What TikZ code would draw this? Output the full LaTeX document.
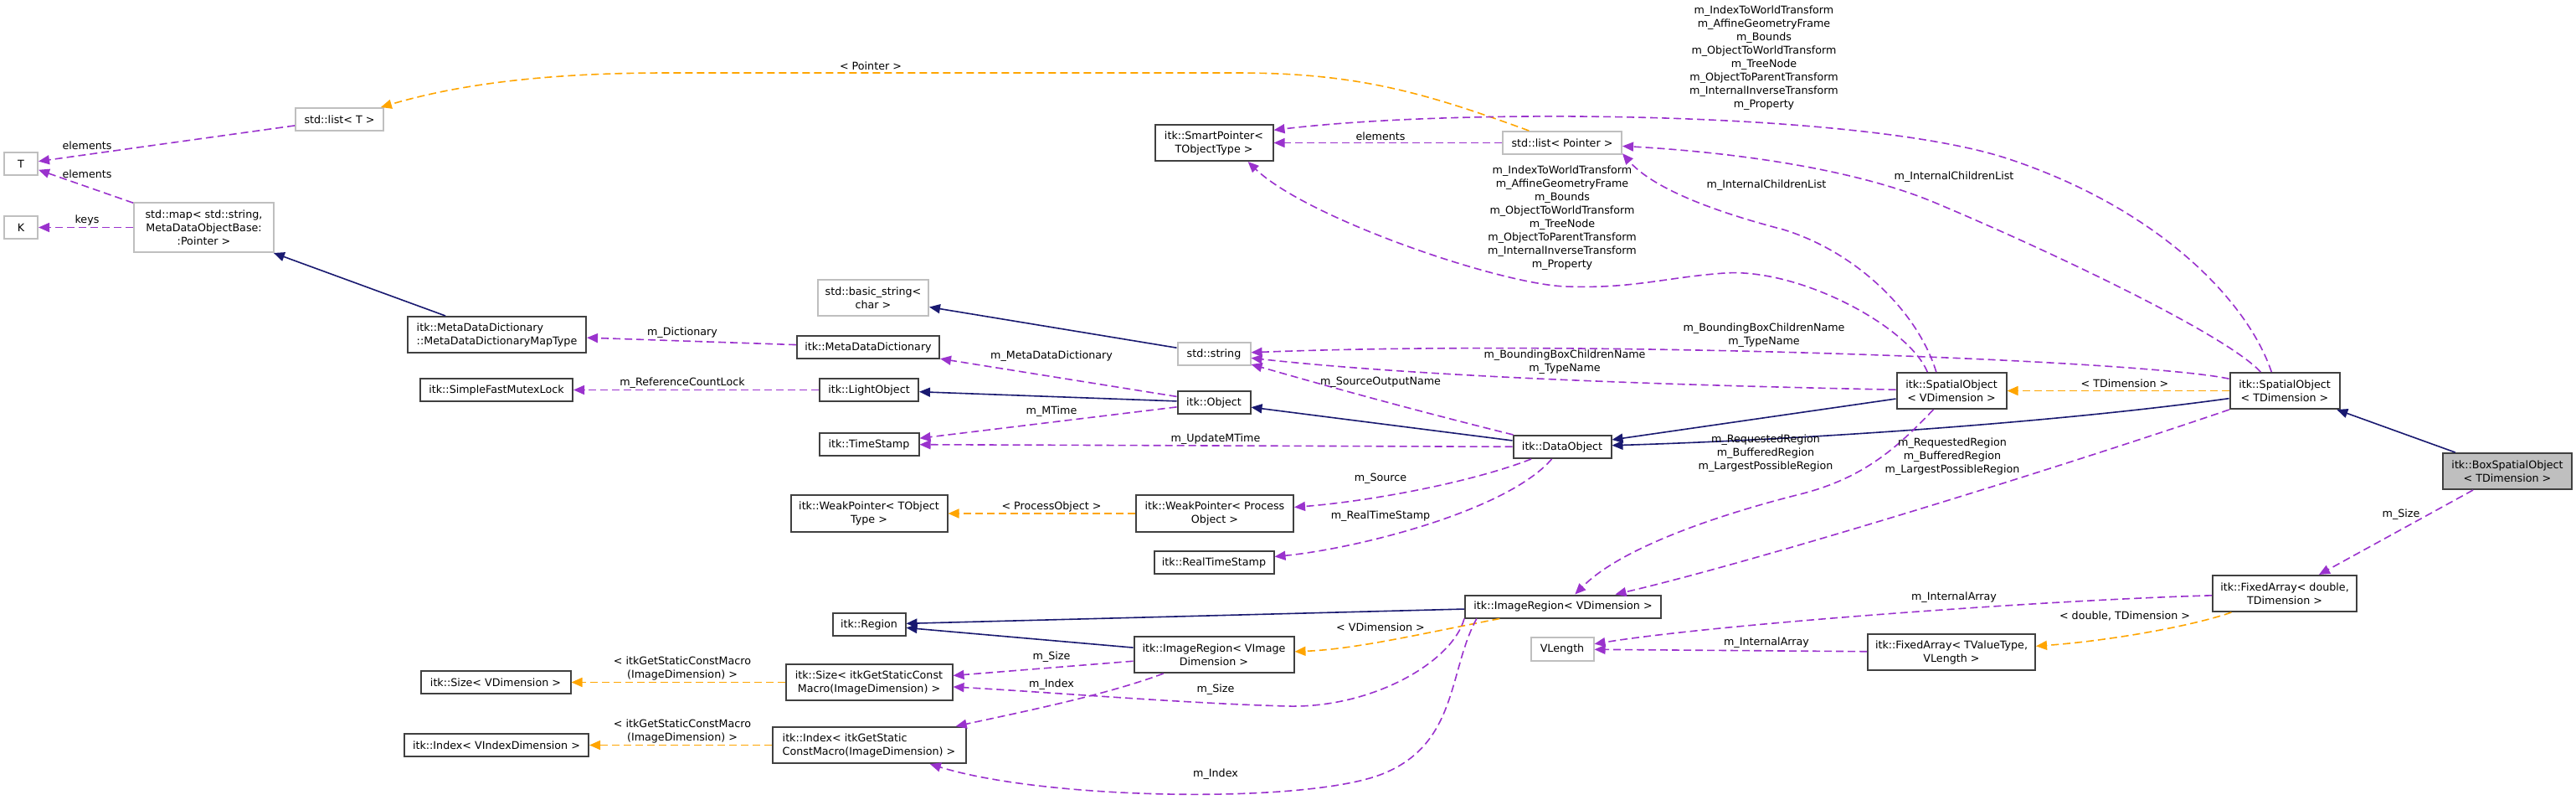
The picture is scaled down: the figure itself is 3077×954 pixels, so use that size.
\documentclass[tikz,border=0pt]{standalone}
\usepackage{fontspec}
\setmainfont{DejaVu Sans}
\usepackage{tikz}
\usetikzlibrary{arrows.meta}
\definecolor{navyline}{RGB}{25,25,112}
\definecolor{orchidline}{RGB}{154,50,205}
\definecolor{tplline}{RGB}{255,165,0}
\definecolor{boxgray}{RGB}{191,191,191}
\newcommand{\dfont}{\fontsize{12.7}{16}\selectfont}

\begin{document}
\begin{tikzpicture}[
            x=1pt, y=-1pt,
            cls/.style={draw=black!75, line width=2pt, fill=white, rectangle,
                       font=\dfont, align=center, inner xsep=4pt, inner ysep=0pt,
                       minimum height=27pt},
            ext/.style={cls, draw=boxgray},
            lbl/.style={font=\dfont, align=center, inner sep=0pt},
            inh/.style={-{Triangle[length=13pt,width=11pt]}, line width=1.6pt, color=navyline},
            use/.style={-{Triangle[length=13pt,width=11pt]}, line width=1.6pt, color=orchidline,
                       dash pattern=on 9pt off 5pt},
            tpl/.style={use, color=tplline}
        ]
            \useasboundingbox (0,0) rectangle (3077,954);

            % classes outside itk
            \node[ext, minimum width=40pt] (tparam) at (25,195.5) {T};
            \node[ext, minimum width=40pt] (kparam) at (25,271.5) {K};
            \node[ext, minimum width=105pt] (listt) at (405.5,142.5) {std::list< T >};
            \node[ext, minimum width=167pt, minimum height=59pt] (stdmap) at (243.5,271.5) {std::map< std::string,\\MetaDataObjectBase:\\:Pointer >};
            \node[ext, minimum width=132pt, minimum height=43pt] (basicstr) at (1043,355.5) {std::basic\_string<\\char >};
            \node[ext, minimum width=87pt] (stdstr) at (1450,422.5) {std::string};
            \node[ext, minimum width=142pt] (listptr) at (1866,170.5) {std::list< Pointer >};
            \node[ext, minimum width=75pt, minimum height=28pt] (vlength) at (1866,775) {VLength};

            % itk classes
            \node[cls, minimum width=213pt, minimum height=43pt, align=left] (maptype) at (593.5,399.5) {itk::MetaDataDictionary\\::MetaDataDictionaryMapType};
            \node[cls, minimum width=182pt] (mutex) at (593,465.5) {itk::SimpleFastMutexLock};
            \node[cls, minimum width=170pt] (mddict) at (1037,414.5) {itk::MetaDataDictionary};
            \node[cls, minimum width=118pt] (lightobj) at (1038,465.5) {itk::LightObject};
            \node[cls, minimum width=119pt] (timestamp) at (1038,530.5) {itk::TimeStamp};
            \node[cls, minimum width=187pt, minimum height=44pt] (weakt) at (1038,613) {itk::WeakPointer< TObject\\Type >};
            \node[cls, minimum width=141pt, minimum height=43pt] (smartptr) at (1450,170.5) {itk::SmartPointer<\\TObjectType >};
            \node[cls, minimum width=87pt] (object) at (1450,480.5) {itk::Object};
            \node[cls, minimum width=188pt, minimum height=44pt] (weakpo) at (1451,613) {itk::WeakPointer< Process\\Object >};
            \node[cls, minimum width=143pt] (realts) at (1450,671.5) {itk::RealTimeStamp};
            \node[cls, minimum width=117pt] (dataobj) at (1866,533.5) {itk::DataObject};
            \node[cls, minimum width=234pt] (imgregv) at (1867,724) {itk::ImageRegion< VDimension >};
            \node[cls, minimum width=87pt] (region) at (1038,745.5) {itk::Region};
            \node[cls, minimum width=191pt, minimum height=43pt] (imgregvi) at (1450,781.5) {itk::ImageRegion< VImage\\Dimension >};
            \node[cls, minimum width=179pt] (sizev) at (592,814.5) {itk::Size< VDimension >};
            \node[cls, minimum width=199pt, minimum height=43pt] (sizeg) at (1038,814.5) {itk::Size< itkGetStaticConst\\Macro(ImageDimension) >};
            \node[cls, minimum width=220pt] (indexv) at (593,889.5) {itk::Index< VIndexDimension >};
            \node[cls, minimum width=231pt, minimum height=43pt, align=left] (indexg) at (1038,889.5) {itk::Index< itkGetStatic\\ConstMacro(ImageDimension) >};
            \node[cls, minimum width=131pt, minimum height=43pt] (spatialv) at (2331,466.5) {itk::SpatialObject\\< VDimension >};
            \node[cls, minimum width=131pt, minimum height=43pt] (spatialt) at (2729,466.5) {itk::SpatialObject\\< TDimension >};
            \node[cls, fill=boxgray, minimum width=154pt, minimum height=43pt] (boxspatial) at (2995,562.5) {itk::BoxSpatialObject\\< TDimension >};
            \node[cls, minimum width=172pt, minimum height=43pt] (fixedd) at (2729,708.5) {itk::FixedArray< double,\\TDimension >};
            \node[cls, minimum width=200pt, minimum height=43pt] (fixedtv) at (2331,778.5) {itk::FixedArray< TValueType,\\VLength >};

            % inheritance
            \draw[inh] (maptype) -- (stdmap);
            \draw[inh] (stdstr) -- (basicstr);
            \draw[inh] (object) -- (lightobj);
            \draw[inh] (dataobj) -- (object);
            \draw[inh] (spatialv) -- (dataobj);
            \draw[inh] (spatialt) .. controls (2450,505) and (2150,525) .. (dataobj);
            \draw[inh] (boxspatial) -- (spatialt);
            \draw[inh] (imgregv) -- (region);
            \draw[inh] (imgregvi) -- (region);

            % template instances
            \draw[tpl] (listptr) .. controls (1700,110) and (1620,87) .. (1478,87) -- (797,87)
                .. controls (640,87) and (540,103) .. (listt);
            \draw[tpl] (spatialt) -- (spatialv);
            \draw[tpl] (weakpo) -- (weakt);
            \draw[tpl] (imgregv) .. controls (1700,756) and (1620,775) .. (imgregvi);
            \draw[tpl] (sizeg) -- (sizev);
            \draw[tpl] (indexg) -- (indexv);
            \draw[tpl] (fixedd) .. controls (2620,747) and (2520,765) .. (fixedtv);

            % members
            \draw[use] (listt) -- (tparam);
            \draw[use] (stdmap) -- (tparam);
            \draw[use] (stdmap) -- (kparam);
            \draw[use] (mddict) -- (maptype);
            \draw[use] (lightobj) -- (mutex);
            \draw[use] (object) -- (mddict);
            \draw[use] (object) -- (timestamp);
            \draw[use] (dataobj) -- (timestamp);
            \draw[use] (dataobj) .. controls (1650,480) and (1530,445) .. (stdstr);
            \draw[use] (dataobj) .. controls (1760,575) and (1640,598) .. (weakpo);
            \draw[use] (dataobj) .. controls (1800,610) and (1620,655) .. (realts);
            \draw[use] (imgregvi) -- (sizeg);
            \draw[use] (imgregvi) .. controls (1320,830) and (1220,850) .. (indexg);
            \draw[use] (imgregv.187) .. controls (1735,790) and (1640,845) .. (1539,843)
                .. controls (1420,840) and (1250,826) .. (sizeg);
            \draw[use] (imgregv.188) .. controls (1730,800) and (1742,888) .. (1651,924)
                .. controls (1560,960) and (1250,955) .. (indexg);
            \draw[use] (spatialv) .. controls (2270,530) and (2230,570) .. (2150,590)
                .. controls (2070,610) and (1940,650) .. (imgregv);
            \draw[use] (spatialt) .. controls (2436,566) and (2091,672) .. (imgregv);
            \draw[use] (spatialv) .. controls (2000,460) and (1700,450) .. (stdstr);
            \draw[use] (spatialt) .. controls (2560,430) and (1900,405) .. (stdstr);
            \draw[use] (spatialv.129) .. controls (2290,370) and (2215,300) .. (2130,274)
                .. controls (2030,248) and (1970,220) .. (listptr.-10);
            \draw[use] (spatialv.142) .. controls (2280,390) and (2150,320) .. (2060,326)
                .. controls (1990,331) and (1950,345) .. (1870,342)
                .. controls (1790,339) and (1560,260) .. (smartptr.-29);
            \draw[use] (spatialt.125) .. controls (2685,360) and (2580,250) .. (2400,190)
                .. controls (2230,133) and (1750,128) .. (smartptr.12);
            \draw[use] (spatialt.142) .. controls (2660,400) and (2450,300) .. (2309,241)
                .. controls (2200,196) and (2040,180) .. (listptr);
            \draw[use] (listptr) -- (smartptr);
            \draw[use] (boxspatial) -- (fixedd);
            \draw[use] (fixedd) .. controls (2450,716) and (2050,745) .. (vlength);
            \draw[use] (fixedtv) -- (vlength);

            % edge labels
            \node[lbl] (lelemt) at (104,174) {elements};
            \node[lbl] (lelemm) at (104,208) {elements};
            \node[lbl] (lkeys) at (104,263) {keys};
            \node[lbl] (lpointer) at (1040,79) {< Pointer >};
            \node[lbl] (ldict) at (815,397) {m\_Dictionary};
            \node[lbl] (llock) at (815,457) {m\_ReferenceCountLock};
            \node[lbl] (lmdd) at (1256,425) {m\_MetaDataDictionary};
            \node[lbl] (lmtime) at (1256,491) {m\_MTime};
            \node[lbl] (lupd) at (1452,524) {m\_UpdateMTime};
            \node[lbl] (lsrcname) at (1649,456) {m\_SourceOutputName};
            \node[lbl] (lsource) at (1649,571) {m\_Source};
            \node[lbl] (lrts) at (1649,616) {m\_RealTimeStamp};
            \node[lbl] (lprocobj) at (1256,605) {< ProcessObject >};
            \node[lbl] (lvdim) at (1649,749) {< VDimension >};
            \node[lbl] (lsize1) at (1256,784) {m\_Size};
            \node[lbl] (lindex1) at (1256,817) {m\_Index};
            \node[lbl] (lsize2) at (1452,823) {m\_Size};
            \node[lbl] (lindex2) at (1452,924) {m\_Index};
            \node[lbl] (lmacro1) at (815,798) {< itkGetStaticConstMacro\\(ImageDimension) >};
            \node[lbl] (lmacro2) at (815,873) {< itkGetStaticConstMacro\\(ImageDimension) >};
            \node[lbl] (lelemp) at (1649,163) {elements};
            \node[lbl] (ltrans1) at (2107,69) {m\_IndexToWorldTransform\\m\_AffineGeometryFrame\\m\_Bounds\\m\_ObjectToWorldTransform\\m\_TreeNode\\m\_ObjectToParentTransform\\m\_InternalInverseTransform\\m\_Property};
            \node[lbl] (ltrans2) at (1866,260) {m\_IndexToWorldTransform\\m\_AffineGeometryFrame\\m\_Bounds\\m\_ObjectToWorldTransform\\m\_TreeNode\\m\_ObjectToParentTransform\\m\_InternalInverseTransform\\m\_Property};
            \node[lbl] (lchild1) at (2110,221) {m\_InternalChildrenList};
            \node[lbl] (lchild2) at (2334,211) {m\_InternalChildrenList};
            \node[lbl] (lname1) at (2107,400) {m\_BoundingBoxChildrenName\\m\_TypeName};
            \node[lbl] (lname2) at (1869,432) {m\_BoundingBoxChildrenName\\m\_TypeName};
            \node[lbl] (ltdim) at (2538,458) {< TDimension >};
            \node[lbl] (lregion1) at (2109,541) {m\_RequestedRegion\\m\_BufferedRegion\\m\_LargestPossibleRegion};
            \node[lbl] (lregion2) at (2332,545) {m\_RequestedRegion\\m\_BufferedRegion\\m\_LargestPossibleRegion};
            \node[lbl] (lsize3) at (2868,614) {m\_Size};
            \node[lbl] (larray1) at (2334,713) {m\_InternalArray};
            \node[lbl] (larray2) at (2110,767) {m\_InternalArray};
            \node[lbl] (ldouble) at (2538,735) {< double, TDimension >};
        \end{tikzpicture}
\end{document}
